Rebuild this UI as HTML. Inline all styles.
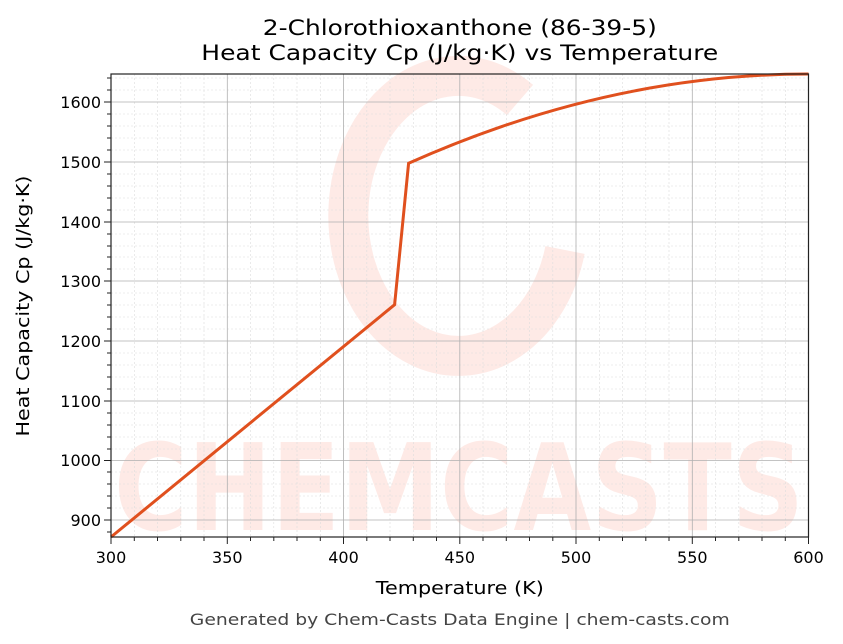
<!DOCTYPE html>
<html><head><meta charset="utf-8"><style>body{margin:0;background:#fff}svg{display:block}</style></head><body>
<svg width="843" height="644" xmlns="http://www.w3.org/2000/svg" font-family="'DejaVu Sans','Liberation Sans',sans-serif">
<rect width="843" height="644" fill="#fff"/>
<g opacity="0.35">
<path d="M520,100 A110,140 0 1 0 565,250" fill="none" stroke="#fdc4b8" stroke-width="40"/>
<text x="459" y="530" font-size="120" font-weight="bold" fill="#fdc4b8" text-anchor="middle" textLength="690" lengthAdjust="spacingAndGlyphs">CHEMCASTS</text>
</g>
<g id="grid">
<g stroke="#ddd" stroke-width="0.6" stroke-dasharray="2,2">
<path d="M134.3,74V537M157.5,74V537M180.8,74V537M204,74V537M250.5,74V537M273.8,74V537M297,74V537M320.3,74V537M366.8,74V537M390,74V537M413.3,74V537M436.5,74V537M483,74V537M506.3,74V537M529.5,74V537M552.8,74V537M599.3,74V537M622.5,74V537M645.8,74V537M669,74V537M715.5,74V537M738.8,74V537M762,74V537M785.3,74V537"/>
<path d="M111,508H809M111,496H809M111,484H809M111,472H809M111,449H809M111,437H809M111,425H809M111,413H809M111,389H809M111,377H809M111,365H809M111,353H809M111,329H809M111,317H809M111,305H809M111,293H809M111,269H809M111,257H809M111,246H809M111,234H809M111,210H809M111,198H809M111,186H809M111,174H809M111,150H809M111,138H809M111,126H809M111,114H809M111,90H809M111,78H809"/>
</g>
<g stroke="#b0b0b0" stroke-width="0.8">
<path d="M227.3,74V537M343.5,74V537M459.8,74V537M576,74V537M692.3,74V537"/>
<path d="M111,520H809M111,460.5H809M111,401H809M111,341H809M111,281H809M111,222H809M111,162H809M111,102H809"/>
</g>
</g>
<path d="M111,537L394.6,304.7L408.6,163.3Q608.5,74 808.5,74" fill="none" stroke="#e0501e" stroke-width="3"/>
<rect x="111" y="74" width="697.5" height="463" fill="none" stroke="#222" stroke-width="1.2"/>
<g stroke="#222" stroke-width="1">
<path d="M111,537v7M227.3,537v7M343.5,537v7M459.8,537v7M576,537v7M692.3,537v7M808.5,537v7"/>
<path d="M134.3,537v4M157.5,537v4M180.8,537v4M204,537v4M250.5,537v4M273.8,537v4M297,537v4M320.3,537v4M366.8,537v4M390,537v4M413.3,537v4M436.5,537v4M483,537v4M506.3,537v4M529.5,537v4M552.8,537v4M599.3,537v4M622.5,537v4M645.8,537v4M669,537v4M715.5,537v4M738.8,537v4M762,537v4M785.3,537v4"/>
<path d="M111,520h-7M111,460.5h-7M111,401h-7M111,341h-7M111,281h-7M111,222h-7M111,162h-7M111,102h-7"/>
<path d="M111,532h-4M111,508h-4M111,496h-4M111,484h-4M111,472h-4M111,449h-4M111,437h-4M111,425h-4M111,413h-4M111,389h-4M111,377h-4M111,365h-4M111,353h-4M111,329h-4M111,317h-4M111,305h-4M111,293h-4M111,269h-4M111,257h-4M111,246h-4M111,234h-4M111,210h-4M111,198h-4M111,186h-4M111,174h-4M111,150h-4M111,138h-4M111,126h-4M111,114h-4M111,90h-4M111,78h-4"/>
</g>
<g font-size="16" fill="#000" text-anchor="middle">
<text x="111" y="563">300</text><text x="227.3" y="563">350</text><text x="343.5" y="563">400</text><text x="459.8" y="563">450</text><text x="576" y="563">500</text><text x="692.3" y="563">550</text><text x="808.5" y="563">600</text>
</g>
<g font-size="16" fill="#000" text-anchor="end">
<text x="101" y="526">900</text><text x="101" y="466">1000</text><text x="101" y="407">1100</text><text x="101" y="347">1200</text><text x="101" y="287">1300</text><text x="101" y="228">1400</text><text x="101" y="168">1500</text><text x="101" y="108">1600</text>
</g>
<text x="459.8" y="594" font-size="18" text-anchor="middle" textLength="168" lengthAdjust="spacingAndGlyphs">Temperature (K)</text>
<text transform="translate(29,306) rotate(-90)" font-size="18" text-anchor="middle" textLength="261" lengthAdjust="spacingAndGlyphs">Heat Capacity Cp (J/kg·K)</text>
<text x="459.8" y="35" font-size="21" text-anchor="middle" textLength="394" lengthAdjust="spacingAndGlyphs">2-Chlorothioxanthone (86-39-5)</text>
<text x="459.8" y="60" font-size="21" text-anchor="middle" textLength="517" lengthAdjust="spacingAndGlyphs">Heat Capacity Cp (J/kg·K) vs Temperature</text>
<text x="459.8" y="625" font-size="16" fill="#444" text-anchor="middle" textLength="540" lengthAdjust="spacingAndGlyphs">Generated by Chem-Casts Data Engine | chem-casts.com</text>
</svg>
</body></html>
